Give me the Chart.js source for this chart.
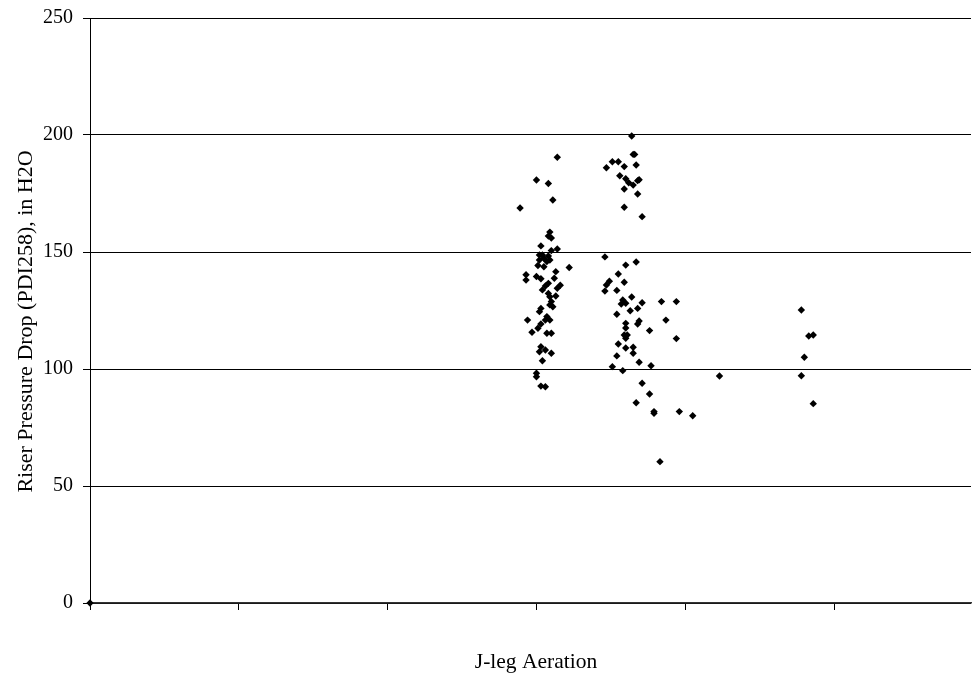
<!DOCTYPE html>
<html>
<head>
<meta charset="utf-8">
<script src="https://cdn.jsdelivr.net/npm/chart.js@4"></script>
<style>
  html, body { margin: 0; padding: 0; background: #fff; }
  #wrap { width: 972px; height: 675px; }
</style>
</head>
<body>
<div id="wrap"><canvas id="myChart" width="972" height="675"></canvas></div>
<script>
// J-leg aeration (x) and riser pressure drop (y)
let aeration = [0,
    3.14, 3.00, 3.08, 3.11, 2.89, 3.09, 3.08, 3.10, 3.03, 3.14, 3.10, 3.02, 3.04, 3.08, 3.02,
    3.05, 3.09, 3.01, 3.05, 3.07, 3.22, 2.93, 2.93, 3.00, 3.03, 3.13, 3.12, 3.08, 3.06, 3.04,
    3.16, 3.14, 3.08, 3.09, 3.13, 3.10, 3.09, 3.11, 3.03, 3.02, 2.94, 3.07, 3.09, 3.06, 3.03,
    3.01, 2.97, 3.07, 3.10, 3.03, 3.02, 3.06, 3.10, 3.04, 3.00, 3.00, 3.03, 3.06,
    3.64, 3.65, 3.66, 3.51, 3.55, 3.47, 3.59, 3.67, 3.56, 3.60, 3.62, 3.65, 3.68, 3.69, 3.59,
    3.68, 3.59, 3.71, 3.46, 3.60, 3.67, 3.55, 3.59, 3.49, 3.47, 3.46, 3.54, 3.58, 3.64, 3.60,
    3.57, 3.71, 3.84, 3.94, 3.68, 3.63, 3.54, 3.69, 3.68, 3.60, 3.87, 3.60, 3.76, 3.59, 3.61,
    3.94, 3.60, 3.55, 3.65, 3.60, 3.65, 3.54, 3.69, 3.77, 3.51, 3.58, 3.71, 3.76, 3.67, 3.79,
    3.79, 3.96, 4.05, 3.83, 4.23,
    4.80, 4.78, 4.86, 4.78, 4.83, 4.86];
let riserDp = [0,
    190.5, 180.8, 179.3, 172.2, 168.8, 158.5, 156.8, 156.0, 152.6, 151.3, 150.6, 148.7, 148.7, 148.3, 146.6,
    147.3, 146.6, 144.2, 143.7, 145.9, 143.4, 140.3, 138.0, 139.5, 138.6, 141.6, 138.8, 136.6, 135.5, 133.8,
    135.8, 134.5, 132.3, 130.9, 131.2, 128.8, 127.4, 126.6, 125.9, 124.5, 120.9, 122.4, 120.9, 120.9, 119.2,
    117.4, 115.7, 115.3, 115.3, 109.5, 107.4, 108.1, 106.7, 103.5, 98.2, 96.7, 92.7, 92.4,
    199.6, 191.7, 191.7, 188.6, 188.6, 186.0, 186.5, 187.2, 182.6, 181.3, 179.6, 178.6, 180.5, 180.9, 176.9,
    174.8, 169.1, 165.1, 147.9, 144.4, 145.7, 140.6, 137.1, 137.5, 135.9, 133.3, 133.6, 129.5, 130.8, 128.1,
    127.8, 128.3, 128.8, 128.8, 125.9, 124.9, 123.4, 120.5, 119.2, 119.5, 120.9, 117.5, 116.4, 114.5, 114.5,
    113.0, 113.1, 110.7, 109.3, 109.0, 106.7, 105.6, 102.9, 101.4, 101.0, 99.3, 93.9, 89.3, 85.6, 81.8,
    81.1, 81.8, 80.0, 60.4, 97.0,
    105.0, 97.1, 85.2, 125.2, 114.1, 114.5];
let xTicks = [0, 1, 2, 3, 4, 5];
let yTicks = [0, 50, 100, 150, 200, 250];
let xTitle = 'J-leg Aeration';
let yTitle = 'Riser Pressure Drop (PDI258), in H2O';

let points = [];
for (let i = 0; i < aeration.length; i++) {
    points.push({x: aeration[i], y: riserDp[i]});
}

let serif = '"Liberation Serif", "Times New Roman", serif';

// titles drawn by hand, Excel puts them a bit off the plot centre
let axisTitles = {
    id: 'axisTitles',
    afterDraw(chart) {
        let c = chart.ctx;
        let a = chart.chartArea;
        c.save();
        c.fillStyle = '#000';
        c.textAlign = 'center';
        c.textBaseline = 'middle';
        c.font = '21.5px ' + serif;
        c.fillText(xTitle, a.left + 446, a.bottom + 59);
        c.font = '22px ' + serif;
        c.translate(a.left - 64, (a.top + a.bottom) / 2 + 11);
        c.rotate(-Math.PI / 2);
        c.fillText(yTitle, 0, 0);
        c.restore();
    }
};

var ctx = document.getElementById('myChart').getContext('2d');
var myChart = new Chart(ctx, {
    type: 'scatter',
    data: {
        datasets: [{
            data: points,
            pointStyle: 'rectRot',
            pointRadius: 3.7,
            pointHoverRadius: 3.7,
            backgroundColor: '#000',
            borderColor: '#000',
            borderWidth: 0,
            clip: 8
        }]
    },
    options: {
        responsive: false,
        animation: false,
        layout: {autoPadding: false, padding: {top: 18, right: 1, left: 0, bottom: 0}},
        plugins: {legend: {display: false}, tooltip: {enabled: false}},
        scales: {
            x: {
                type: 'linear',
                min: 0,
                max: 5.92,
                afterFit(s) { s.height = 72; s.paddingLeft = 0; s.paddingRight = 0; },
                afterBuildTicks(s) { s.ticks = xTicks.map(v => ({value: v})); },
                ticks: {display: false, padding: 0},
                grid: {drawOnChartArea: false, drawTicks: true, tickLength: 7, color: '#000'},
                border: {color: '#333', width: 1.5}
            },
            y: {
                min: 0,
                max: 250,
                afterFit(s) { s.width = 90; s.paddingTop = 0; s.paddingBottom = 0; },
                afterBuildTicks(s) { s.ticks = yTicks.map(v => ({value: v})); },
                ticks: {color: '#000', font: {family: serif, size: 20}, padding: 10},
                grid: {color: '#000', tickLength: 7, lineWidth: 1},
                border: {color: '#000', width: 1}
            }
        }
    },
    plugins: [axisTitles]
});
</script>
</body>
</html>
